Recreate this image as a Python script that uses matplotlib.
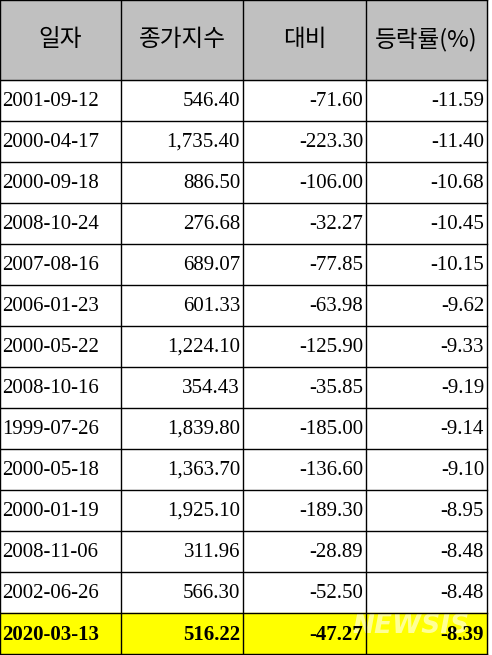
import matplotlib.pyplot as plt
from matplotlib.patches import Rectangle

headers = ["일자", "종가지수", "대비", "등락률(%)"]
dates = ["2001-09-12", "2000-04-17", "2000-09-18", "2008-10-24", "2007-08-16",
         "2006-01-23", "2000-05-22", "2008-10-16", "1999-07-26", "2000-05-18",
         "2000-01-19", "2008-11-06", "2002-06-26", "2020-03-13"]
closes = ["546.40", "1,735.40", "886.50", "276.68", "689.07", "601.33", "1,224.10",
          "354.43", "1,839.80", "1,363.70", "1,925.10", "311.96", "566.30", "516.22"]
changes = ["-71.60", "-223.30", "-106.00", "-32.27", "-77.85", "-63.98", "-125.90",
           "-35.85", "-185.00", "-136.60", "-189.30", "-28.89", "-52.50", "-47.27"]
rates = ["-11.59", "-11.40", "-10.68", "-10.45", "-10.15", "-9.62", "-9.33",
         "-9.19", "-9.14", "-9.10", "-8.95", "-8.48", "-8.48", "-8.39"]

W, H = 492, 655
col_x = [0, 121, 243, 366, 487]
head_h = 80
row_h = 41

fig = plt.figure(figsize=(W / 100, H / 100), dpi=100)
ax = fig.add_axes([0, 0, 1, 1])
ax.set_xlim(0, W)
ax.set_ylim(H, 0)
ax.axis("off")

ax.add_patch(Rectangle((0, 0), col_x[-1], head_h, color="#c0c0c0", zorder=0))
for i, h in enumerate(headers):
    cx = (col_x[i] + col_x[i + 1]) / 2
    ax.text(cx, head_h / 2, h, ha="center", va="center", fontsize=17,
            family=["Noto Sans CJK KR", "Liberation Serif"])

for r in range(len(dates)):
    y0 = head_h + r * row_h
    last = r == len(dates) - 1
    if last:
        ax.add_patch(Rectangle((0, y0), col_x[-1], row_h, color="#ffff00", zorder=0))
    weight = "bold" if last else "normal"
    yc = y0 + row_h / 2 + 1
    ax.text(2, yc, dates[r], ha="left", va="center", fontsize=15,
            family="Liberation Serif", weight=weight)
    for j, v in enumerate([closes[r], changes[r], rates[r]]):
        ax.text(col_x[j + 2] - 3, yc, v, ha="right", va="center", fontsize=15,
                family="Liberation Serif", weight=weight)

bottom = head_h + len(dates) * row_h
for x in col_x:
    ax.plot([x, x], [0, bottom], color="black", lw=1)
for r in range(len(dates) + 1):
    y = head_h + r * row_h
    ax.plot([0, col_x[-1]], [y, y], color="black", lw=1)
ax.plot([0, col_x[-1]], [0, 0], color="black", lw=1)

# watermark
ax.text(470, 626, "NEWSIS", ha="right", va="center", fontsize=19, color="white",
        alpha=0.6, weight="bold", style="italic", family="DejaVu Sans", zorder=0.5)

fig.savefig("out.png", dpi=100)
